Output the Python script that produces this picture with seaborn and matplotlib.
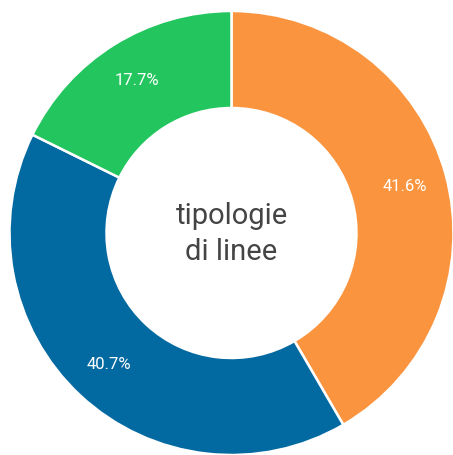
import matplotlib
matplotlib.use('Agg')
import matplotlib.pyplot as plt
import seaborn as sns

# slice shares, clockwise from the top
categories = ['arancione', 'blu', 'verde']
shares = [41.6, 40.7, 17.7]
colors = ['#fb943f', '#0369a1', '#22c55e']
center_label = 'tipologie\ndi linee'

sns.set_theme(style='white')
plt.rcParams['font.family'] = ['Roboto', 'DejaVu Sans']

fig = plt.figure(figsize=(4.53, 4.55), dpi=100)
ax = fig.add_axes([0, 0, 1, 1])

outer = 222
inner = 125
wedges, texts, autotexts = ax.pie(
    shares,
    colors=colors,
    startangle=90,
    counterclock=False,
    center=(231.5, 222),
    radius=outer,
    autopct='%.1f%%',
    pctdistance=0.81,
    wedgeprops=dict(width=outer - inner, edgecolor='white', linewidth=1.8),
    textprops=dict(color='white', fontsize=12),
)

ax.text(231.5, 221, center_label, ha='center', va='center',
        fontsize=21, color='#444444', linespacing=1.35)

ax.set_xlim(0, 453)
ax.set_ylim(0, 455)
ax.set_aspect('equal')
ax.axis('off')

fig.savefig('out.png', dpi=100)
